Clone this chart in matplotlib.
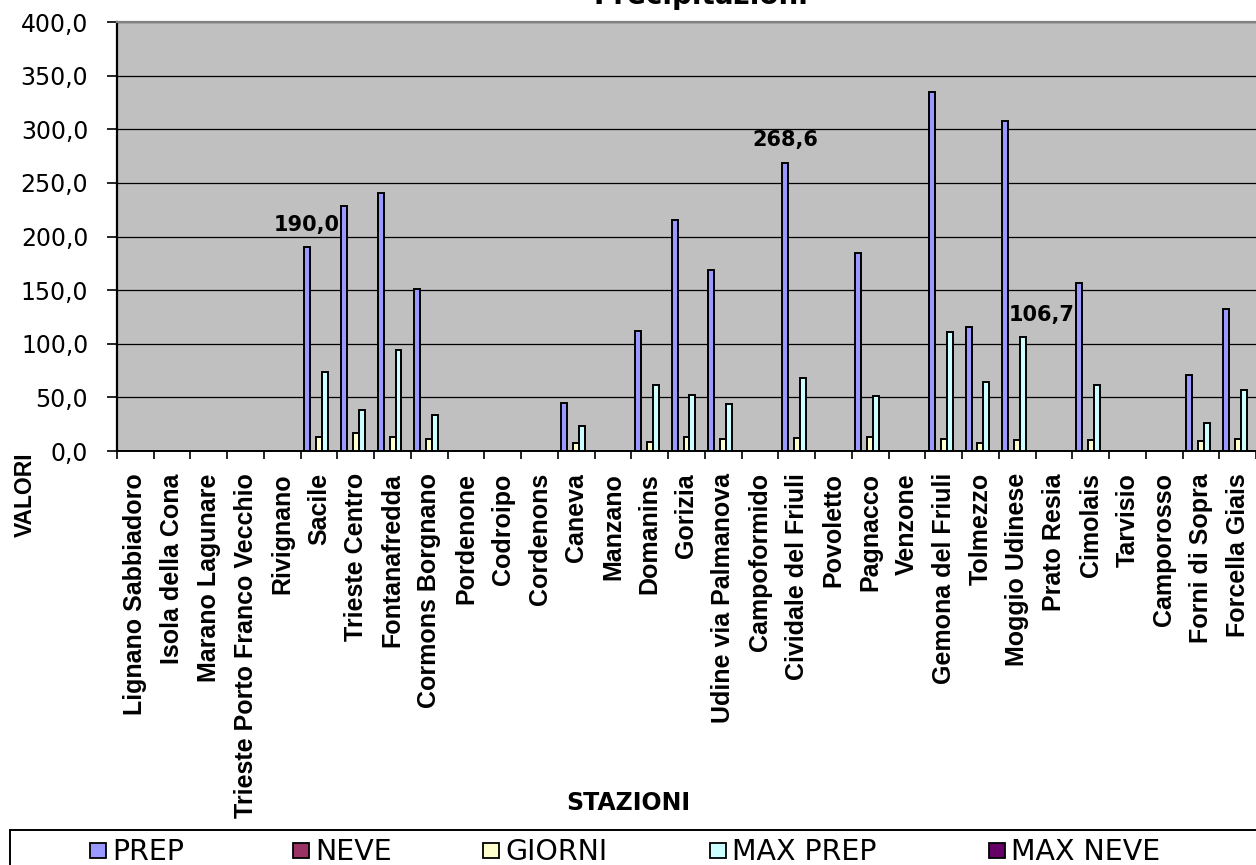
import numpy as np
import matplotlib.pyplot as plt
from matplotlib.patches import Rectangle
from matplotlib.ticker import FixedLocator, FuncFormatter

stazioni = [
    "Lignano Sabbiadoro", "Isola della Cona", "Marano Lagunare",
    "Trieste Porto Franco Vecchio", "Rivignano", "Sacile", "Trieste Centro",
    "Fontanafredda", "Cormons Borgnano", "Pordenone", "Codroipo", "Cordenons",
    "Caneva", "Manzano", "Domanins", "Gorizia", "Udine via Palmanova",
    "Campoformido", "Cividale del Friuli", "Povoletto", "Pagnacco", "Venzone",
    "Gemona del Friuli", "Tolmezzo", "Moggio Udinese", "Prato Resia",
    "Cimolais", "Tarvisio", "Camporosso", "Forni di Sopra", "Forcella Giais",
]

serie = ["PREP", "NEVE", "GIORNI", "MAX PREP", "MAX NEVE"]
colori = ["#9999FF", "#993366", "#FFFFCC", "#CCFFFF", "#660066"]

prep = [0, 0, 0, 0, 0, 190.0, 228, 241, 151, 0, 0, 0, 45, 0, 112, 215, 169,
        0, 268.6, 0, 185, 0, 335, 116, 308, 0, 157, 0, 0, 71, 132]
neve = [0, 0, 0, 0, 0, 0, 0, 0, 0, 0, 0, 0, 0, 0, 0, 0, 0,
        0, 0, 0, 0, 0, 0, 0, 0, 0, 0, 0, 0, 0, 0]
giorni = [0, 0, 0, 0, 0, 13, 17, 13, 11, 0, 0, 0, 7, 0, 8, 13, 11,
          0, 12, 0, 13, 0, 11, 7, 10, 0, 10, 0, 0, 9, 11]
max_prep = [0, 0, 0, 0, 0, 74, 38, 94, 34, 0, 0, 0, 23, 0, 62, 52, 44,
            0, 68, 0, 51, 0, 111, 64, 106.7, 0, 62, 0, 0, 26, 57]
max_neve = [0, 0, 0, 0, 0, 0, 0, 0, 0, 0, 0, 0, 0, 0, 0, 0, 0,
            0, 0, 0, 0, 0, 0, 0, 0, 0, 0, 0, 0, 0, 0]

# etichette dati: (indice serie, indice stazione, spostamento in punti)
etichette = [(0, 5, (0, 9)), (0, 18, (0, 9)), (3, 24, (13, 8))]

valori = [prep, neve, giorni, max_prep, max_neve]


def fmt_it(v, pos=None):
    return f"{v:.1f}".replace(".", ",")


W, H = 1256, 865
fig = plt.figure(figsize=(W / 100, H / 100), dpi=100)
fig.patch.set_facecolor("white")

ax = fig.add_axes([117 / W, (H - 451) / H, (W - 117) / W, (451 - 22) / H])
ax.set_facecolor("#C0C0C0")

x = np.arange(len(stazioni))
w = 0.162
for k, (nome, col, dati) in enumerate(zip(serie, colori, valori)):
    ax.bar(x + (k - 2) * w, dati, width=w, color=col, edgecolor="black",
           linewidth=1.4, label=nome, zorder=3)

for s, i, off in etichette:
    v = valori[s][i]
    ax.annotate(fmt_it(v), xy=(i + (s - 2) * w, v), xytext=off,
                textcoords="offset points", ha="center", va="bottom",
                fontsize=15, fontweight="bold", family="DejaVu Sans", zorder=5)

ax.set_ylim(0, 400)
ax.set_xlim(-0.5, (W - 117) / 37 - 0.5)
ax.yaxis.set_major_locator(FixedLocator(np.arange(0, 401, 50)))
ax.yaxis.set_major_formatter(FuncFormatter(fmt_it))
ax.grid(axis="y", color="black", linewidth=0.9, zorder=1)
ax.set_axisbelow(True)

ax.set_xticks(x)
ax.set_xticklabels(stazioni, rotation=90, ha="center", va="top",
                   fontsize=18, fontweight="bold", family="Liberation Sans")
ax.set_xticks(np.arange(-0.5, len(stazioni), 1), minor=True)
ax.tick_params(axis="x", which="major", length=0, pad=16)
ax.tick_params(axis="x", which="minor", length=5.5, width=1.2, direction="out")
ax.tick_params(axis="y", length=7.2, width=1.2, direction="out", pad=13.5,
               labelsize=17)
for t in ax.get_yticklabels():
    t.set_family("DejaVu Sans")

ax.spines["right"].set_visible(False)
ax.spines["top"].set_color("#808080")
ax.spines["top"].set_linewidth(1.6)
ax.spines["left"].set_linewidth(1.6)
ax.spines["bottom"].set_linewidth(1.4)

# titolo (tagliato in alto), etichette degli assi
fig.text(701 / W, (H - 4) / H, "Precipitazioni", ha="center", va="baseline",
         fontsize=20, fontweight="bold", family="DejaVu Sans")
fig.text(25 / W, (H - 495) / H, "VALORI", rotation=90, ha="center",
         va="center", fontsize=16.5, fontweight="bold",
         family="Liberation Sans")
fig.text(628 / W, (H - 810) / H, "STAZIONI", ha="center", va="baseline",
         fontsize=17, fontweight="bold", family="DejaVu Sans")

# legenda in basso, con riquadro che esce dal bordo
fig.add_artist(Rectangle((10 / W, (H - 900) / H), (W + 20) / W, 70 / H,
                         transform=fig.transFigure, facecolor="white",
                         edgecolor="black", linewidth=1.4, zorder=0))
sq_x = [90, 293, 483, 710, 989]
for nome, col, sx in zip(serie, colori, sq_x):
    fig.add_artist(Rectangle((sx / W, (H - 858) / H), 16 / W, 15 / H,
                             transform=fig.transFigure, facecolor=col,
                             edgecolor="black", linewidth=1.3))
    fig.text((sx + 22) / W, (H - 860) / H, nome, ha="left", va="baseline",
             fontsize=20.5, family="DejaVu Sans")

fig.savefig("out.png", dpi=100)
